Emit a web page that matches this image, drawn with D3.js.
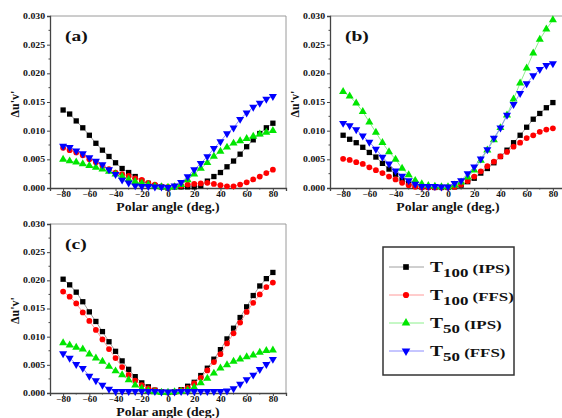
<!DOCTYPE html>
<html>
<head>
<meta charset="utf-8">
<script src="https://cdn.jsdelivr.net/npm/d3@7"></script>
<style>
  body { margin: 0; background: #fff; }
  text { font-family: "Liberation Serif", "Times New Roman", serif; font-weight: bold; fill: #111; }
</style>
</head>
<body>
<div id="chart"></div>
<script>
// polar angle categories (deg.)
const angles = [-80, -75, -70, -65, -60, -55, -50, -45, -40, -35, -30, -25, -20, -15, -10, -5,
  0, 5, 10, 15, 20, 25, 30, 35, 40, 45, 50, 55, 60, 65, 70, 75, 80];
const xTicks = [-80, -60, -40, -20, 0, 20, 40, 60, 80];
const xMinor = [-70, -50, -30, -10, 10, 30, 50, 70];
const yTicks = [0, 0.005, 0.010, 0.015, 0.020, 0.025, 0.030];
const yMinor = [0.0025, 0.0075, 0.0125, 0.0175, 0.0225, 0.0275];
const panelLabels = ["(a)", "(b)", "(c)"];
const seriesBase = ["T", "T", "T", "T"];
const seriesSub = ["100", "100", "50", "50"];
const seriesMode = ["(IPS)", "(FFS)", "(IPS)", "(FFS)"];

// panel (a)
const a_T100_IPS = [.0136,.0129,.0117,.0105,.0092,.0078,.0066,.0055,.0044,.0034,.0027,.0020,.0012,.0008,.0004,.0002,
  .0000,.0002,.0002,.0002,.0002,.0004,.0012,.0020,.0027,.0037,.0047,.0059,.0072,.0084,.0095,.0105,.0113];
const a_T100_FFS = [.0070,.0066,.0062,.0057,.0050,.0045,.0039,.0033,.0027,.0024,.0021,.0017,.0014,.0009,.0006,.0003,
  .0002,.0003,.0004,.0006,.0007,.0008,.0009,.0007,.0005,.0003,.0003,.0006,.0010,.0015,.0020,.0026,.0032];
const a_T50_IPS = [.0050,.0047,.0045,.0042,.0039,.0036,.0033,.0029,.0024,.0020,.0015,.0011,.0008,.0006,.0003,.0002,
  .0001,.0002,.0006,.0014,.0024,.0034,.0044,.0055,.0064,.0071,.0078,.0082,.0086,.0090,.0094,.0097,.0100];
const a_T50_FFS = [.0073,.0071,.0065,.0060,.0053,.0047,.0041,.0032,.0024,.0014,.0009,.0004,.0003,.0003,.0002,.0002,
  .0001,.0004,.0010,.0020,.0032,.0043,.0055,.0069,.0081,.0095,.0105,.0120,.0131,.0141,.0148,.0155,.0160];

// panel (b)
const b_T100_IPS = [.0092,.0085,.0079,.0071,.0062,.0054,.0043,.0033,.0024,.0014,.0008,.0003,.0002,.0002,.0001,.0001,
  .0001,.0002,.0005,.0011,.0017,.0026,.0034,.0044,.0055,.0066,.0079,.0092,.0106,.0120,.0130,.0140,.0149];
const b_T100_FFS = [.0051,.0049,.0045,.0042,.0036,.0031,.0026,.0020,.0015,.0009,.0005,.0002,.0001,.0001,.0001,.0001,
  .0001,.0002,.0006,.0012,.0020,.0029,.0038,.0046,.0055,.0063,.0072,.0079,.0087,.0092,.0098,.0102,.0104];
const b_T50_IPS = [.0168,.0160,.0148,.0133,.0115,.0097,.0079,.0063,.0050,.0034,.0023,.0013,.0007,.0004,.0003,.0002,
  .0002,.0005,.0010,.0019,.0031,.0048,.0066,.0084,.0105,.0127,.0155,.0183,.0209,.0235,.0259,.0277,.0293];
const b_T50_FFS = [.0113,.0109,.0102,.0091,.0080,.0068,.0054,.0042,.0030,.0021,.0013,.0007,.0003,.0003,.0003,.0002,
  .0002,.0008,.0013,.0025,.0037,.0051,.0067,.0087,.0105,.0127,.0146,.0165,.0182,.0196,.0207,.0214,.0217];

// panel (c)
const c_T100_IPS = [.0202,.0192,.0179,.0162,.0144,.0127,.0109,.0091,.0074,.0057,.0042,.0029,.0018,.0011,.0005,.0002,
  .0001,.0002,.0006,.0012,.0019,.0031,.0044,.0060,.0077,.0096,.0115,.0134,.0153,.0173,.0190,.0203,.0214];
const c_T100_FFS = [.0180,.0171,.0159,.0143,.0128,.0112,.0095,.0078,.0062,.0046,.0032,.0022,.0014,.0008,.0005,.0002,
  .0001,.0002,.0005,.0009,.0017,.0027,.0040,.0055,.0069,.0088,.0106,.0125,.0144,.0160,.0175,.0188,.0196];
const c_T50_IPS = [.0089,.0085,.0081,.0078,.0069,.0062,.0056,.0047,.0039,.0032,.0023,.0014,.0008,.0004,.0002,.0001,
  .0001,.0002,.0003,.0005,.0010,.0018,.0026,.0035,.0044,.0050,.0056,.0060,.0064,.0067,.0072,.0075,.0076];
const c_T50_FFS = [.0070,.0062,.0051,.0044,.0030,.0022,.0014,.0007,.0003,.0003,.0003,.0003,.0003,.0003,.0003,.0002,
  .0002,.0002,.0003,.0003,.0003,.0003,.0003,.0003,.0003,.0004,.0008,.0016,.0024,.0032,.0042,.0051,.0060];

const markerColors = ["#000000", "#ff0000", "#00e600", "#0000ff"];
const lineColors = ["#a0a0a0", "#ff9a9a", "#8cf08c", "#8c8cff"];
const markerShapes = [d3.symbolSquare, d3.symbolCircle, d3.symbolTriangle, d3.symbolTriangle];
const markerSizes = [28, 26, 28, 28];
const markerRot = [0, 0, 0, 180];

const W = 562, H = 418;
const svg = d3.select("#chart").append("svg").attr("width", W).attr("height", H);

// widen text a bit, the scanned figure has stretched lettering
function stretch(sel, f) {
  sel.each(function () {
    const w = this.getComputedTextLength();
    d3.select(this).attr("textLength", w * f).attr("lengthAdjust", "spacingAndGlyphs");
  });
}

const panels = [
  { label: panelLabels[0], box: [50, 16, 286, 188], series: [a_T100_IPS, a_T100_FFS, a_T50_IPS, a_T50_FFS] },
  { label: panelLabels[1], box: [330, 16, 566, 188], series: [b_T100_IPS, b_T100_FFS, b_T50_IPS, b_T50_FFS] },
  { label: panelLabels[2], box: [50, 224, 286, 393], series: [c_T100_IPS, c_T100_FFS, c_T50_IPS, c_T50_FFS] }
];

panels.forEach(p => {
  const [x0, y0, x1, y1] = p.box;
  const x = d3.scaleLinear().domain([-90, 90]).range([x0, x1]);
  const y = d3.scaleLinear().domain([0, 0.030]).range([y1, y0]);
  const g = svg.append("g");

  // frame top/right
  g.append("line").attr("x1", x0).attr("x2", x1).attr("y1", y0).attr("y2", y0).attr("stroke", "#9a9a9a").attr("stroke-width", 1);
  g.append("line").attr("x1", x1).attr("x2", x1).attr("y1", y0).attr("y2", y1).attr("stroke", "#9a9a9a").attr("stroke-width", 1);

  // y axis
  const ya = g.append("g").attr("transform", `translate(${x0},0)`)
    .call(d3.axisLeft(y).tickValues(yTicks).tickSize(3).tickPadding(2).tickFormat(d3.format(".3f")));
  ya.append("g").selectAll("line").data(yMinor).join("line")
    .attr("x1", -1.5).attr("x2", 0).attr("y1", d => y(d)).attr("y2", d => y(d)).attr("stroke", "#444");
  // x axis
  const xa = g.append("g").attr("transform", `translate(0,${y1})`)
    .call(d3.axisBottom(x).tickValues(xTicks).tickSize(3).tickPadding(1).tickFormat(d3.format("d")));
  xa.append("g").selectAll("line").data(xMinor).join("line")
    .attr("x1", d => x(d)).attr("x2", d => x(d)).attr("y1", 0).attr("y2", 1.5).attr("stroke", "#444");

  [ya, xa].forEach(a => {
    a.select(".domain").attr("stroke", "#444").attr("stroke-width", 1.3);
    a.selectAll(".tick line").attr("stroke", "#444");
    a.selectAll(".tick text").attr("font-size", 7.5).attr("font-family", "Liberation Serif").attr("font-weight", "bold").attr("fill", "#222");
  });
  stretch(ya.selectAll(".tick text"), 1.3);
  stretch(xa.selectAll(".tick text"), 1.25);

  // titles
  g.append("text").attr("x", (x0 + x1) / 2).attr("y", y1 + 23).attr("text-anchor", "middle")
    .attr("font-size", 12.5).text("Polar angle (deg.)")
    .call(s => stretch(s, 1.1));
  g.append("text").attr("transform", `translate(${x0 - 31},${(y0 + y1) / 2 + 2}) rotate(-90)`)
    .attr("text-anchor", "middle").attr("font-size", 12).text("\u0394u'v'");
  g.append("text").attr("x", x0 + 15).attr("y", y0 + 25).attr("font-size", 15).text(p.label)
    .call(s => stretch(s, 1.3));

  // series
  p.series.forEach((vals, i) => {
    const pts = angles.map((a, k) => [a, vals[k]]);
    g.append("path").datum(pts)
      .attr("fill", "none").attr("stroke", lineColors[i]).attr("stroke-width", 1)
      .attr("d", d3.line().x(d => x(d[0])).y(d => y(d[1])));
    g.append("g").selectAll("path").data(pts).join("path")
      .attr("transform", d => `translate(${x(d[0])},${y(d[1])}) rotate(${markerRot[i]})`)
      .attr("d", d3.symbol().type(markerShapes[i]).size(markerSizes[i]))
      .attr("fill", markerColors[i]);
  });
});

// legend
const leg = svg.append("g");
leg.append("rect").attr("x", 383).attr("y", 247).attr("width", 131).attr("height", 128)
  .attr("fill", "#fff").attr("stroke", "#333").attr("stroke-width", 1.5);
const legRowY = d3.scalePoint().domain(d3.range(4)).range([267, 351]);
d3.range(4).forEach(i => {
  const cy = legRowY(i);
  leg.append("line").attr("x1", 389).attr("x2", 424).attr("y1", cy).attr("y2", cy)
    .attr("stroke", lineColors[i]).attr("stroke-width", 1);
  leg.append("path").attr("transform", `translate(406,${cy}) rotate(${markerRot[i]})`)
    .attr("d", d3.symbol().type(markerShapes[i]).size(markerSizes[i] + 4)).attr("fill", markerColors[i]);
  const t = leg.append("text").attr("x", 430).attr("y", cy + 5);
  t.append("tspan").attr("font-size", 15).text(seriesBase[i]);
  t.append("tspan").attr("font-size", 13).attr("dy", 5).text(seriesSub[i]);
  t.append("tspan").attr("font-size", 13).attr("dy", -4).text(" " + seriesMode[i]);
  stretch(t, 1.3);
});
</script>
</body>
</html>
